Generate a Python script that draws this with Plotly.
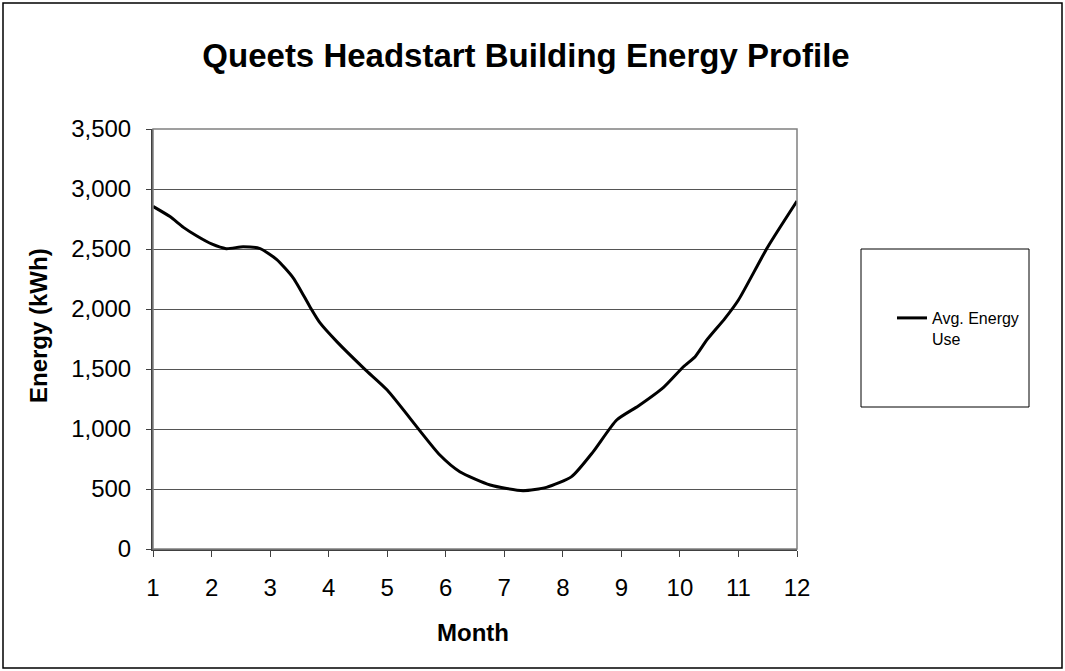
import plotly.graph_objects as go

# monthly energy profile
months = [1.0, 1.29, 1.52, 1.75, 2.0, 2.25, 2.54, 2.83, 3.11, 3.40, 3.68, 3.85,
          4.14, 4.62, 5.0, 5.9, 6.24, 6.76, 7.32, 7.72, 8.15, 8.52, 8.92,
          9.29, 9.72, 10.06, 10.26, 10.46, 10.77, 11.0, 11.5, 12.0]
energy = [2855, 2770, 2680, 2608, 2542, 2503, 2519, 2503, 2414, 2256, 2019, 1886,
          1728, 1497, 1325, 783, 644, 533, 486, 514, 603, 811, 1075,
          1192, 1347, 1519, 1603, 1742, 1922, 2075, 2517, 2900]

series_name = "Avg. Energy<br>Use"
title_text = "Queets Headstart Building Energy Profile"
x_title = "Month"
y_title = "Energy (kWh)"
x_ticks = list(range(1, 13))
y_ticks = list(range(0, 3501, 500))

W, H = 1065, 671
L, R, T, B = 153, 797, 129, 549


def px(x):
    return (x - L) / (R - L)


def py(y):
    return (B - y) / (B - T)


font = "Liberation Sans, Arial, sans-serif"

fig = go.Figure()
fig.add_trace(go.Scatter(
    x=months, y=energy, name=series_name, mode="lines",
    line=dict(color="black", width=3, shape="spline", smoothing=0.6),
))

fig.update_layout(
    width=W, height=H,
    margin=dict(l=L, r=W - R, t=T, b=H - B),
    paper_bgcolor="white", plot_bgcolor="white",
    font=dict(family=font, color="black", size=24),
    title=dict(text="<b>%s</b>" % title_text, xref="container", x=526 / W,
               xanchor="center", yref="container", y=1 - 55 / H,
               yanchor="middle", font=dict(size=33)),
    showlegend=True,
    legend=dict(x=px(892), y=py(301), xanchor="left", yanchor="top",
                bgcolor="rgba(0,0,0,0)", borderwidth=0, valign="top",
                font=dict(size=16), itemwidth=30, tracegroupgap=0),
    shapes=[
        # outer chart border
        dict(type="rect", xref="paper", yref="paper",
             x0=px(3), x1=px(1062), y0=py(668), y1=py(3),
             line=dict(color="black", width=1.5)),
        # plot area frame (top/right)
        dict(type="rect", xref="paper", yref="paper",
             x0=0, x1=1, y0=0, y1=1, line=dict(color="#808080", width=1.5)),
        # legend box
        dict(type="rect", xref="paper", yref="paper",
             x0=px(861), x1=px(1029), y0=py(407), y1=py(249),
             line=dict(color="black", width=1)),
    ],
    annotations=[
        dict(text="<b>%s</b>" % x_title, xref="paper", yref="paper",
             x=px(473), y=py(632), xanchor="center", yanchor="middle",
             showarrow=False, font=dict(size=24)),
        dict(text="<b>%s</b>" % y_title, xref="paper", yref="paper",
             x=px(38), y=py(326), xanchor="center", yanchor="middle",
             textangle=-90, showarrow=False, font=dict(size=24)),
    ],
)

fig.update_xaxes(
    range=[1, 12], tickvals=x_ticks, ticktext=[str(v) for v in x_ticks],
    showgrid=False, zeroline=False,
    showline=True, linecolor="#404040", linewidth=2,
    ticks="outside", ticklen=6, tickcolor="#404040", tickwidth=1,
    ticklabelstandoff=10,
)
fig.update_yaxes(
    range=[0, 3500], tickvals=y_ticks, tickformat=",d",
    showgrid=True, gridcolor="#555555", gridwidth=1, zeroline=False,
    showline=True, linecolor="#404040", linewidth=2,
    ticks="outside", ticklen=5, tickcolor="#404040", tickwidth=1,
    ticklabelstandoff=10,
)

fig.write_html("out.html", config={"displayModeBar": False},
               post_script="document.body.style.margin='0';document.body.style.padding='0';")
